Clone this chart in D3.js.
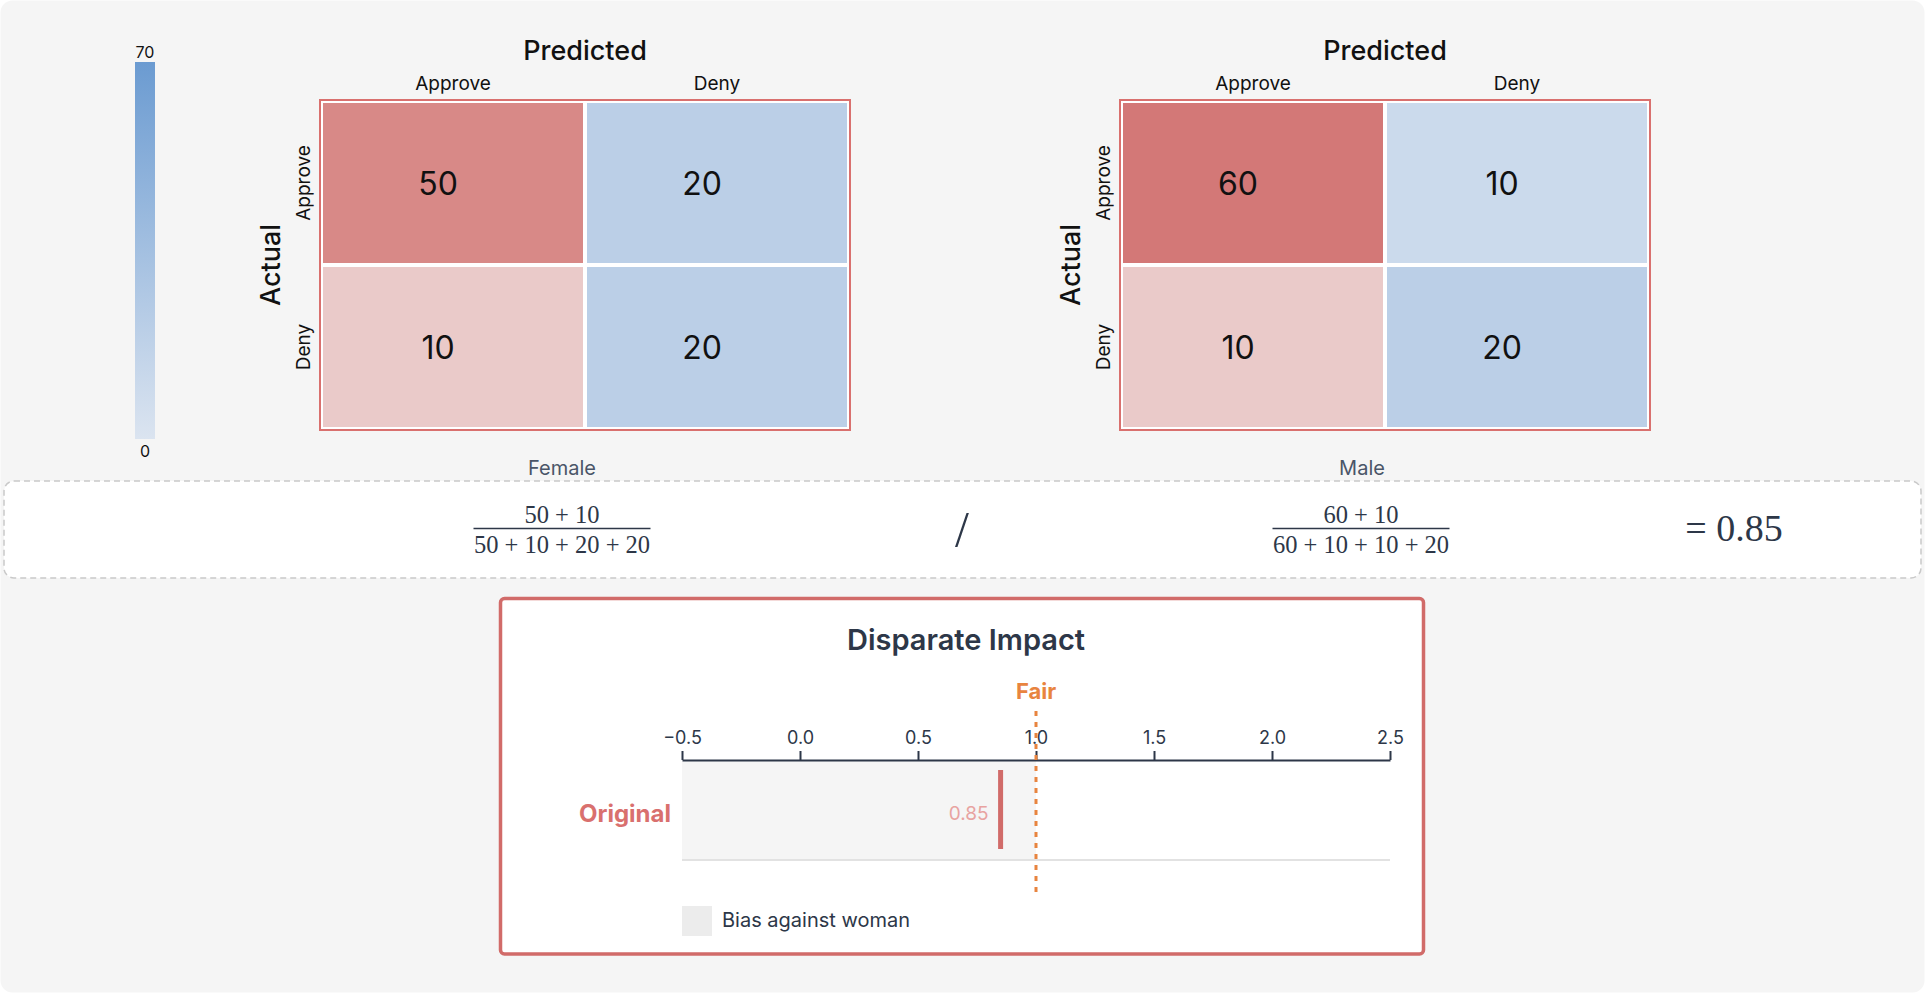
<!DOCTYPE html>
<html>
<head>
<meta charset="utf-8">
<script src="https://cdn.jsdelivr.net/npm/d3@7"></script>
<style>
  html, body { margin: 0; padding: 0; background: #ffffff; }
  svg { display: block; }
  text { font-family: Inter, "Noto Sans", Roboto, sans-serif; }
</style>
</head>
<body>
<svg id="chart" width="1926" height="996"></svg>
<script>
// ---------------- data ----------------
const predictedLabels = ["Approve", "Deny"];
const actualLabels = ["Approve", "Deny"];
const groupNames = ["Female", "Male"];
const femaleMatrix = [[50, 20], [10, 20]];   // rows: actual, cols: predicted
const maleMatrix = [[60, 10], [10, 20]];
const colorDomain = [0, 70];
const colorbarTicks = [0, 70];
const impactTicks = [-0.5, 0.0, 0.5, 1.0, 1.5, 2.0, 2.5];
const impactDomain = [-0.5, 2.5];
const impactLabels = ["Original"];
const impactValues = [0.85];
const fairValue = 1.0;
const legendLabels = ["Bias against woman"];

// ---------------- setup ----------------
const svg = d3.select("#chart");
const ink = "#2d3748";
const red = "#d16b69";

// outer card
svg.append("rect").attr("x", 0.5).attr("y", 0.5).attr("width", 1924).attr("height", 992)
  .attr("rx", 12).attr("fill", "#f5f5f5");

const blueScale = d3.scaleLinear().domain(colorDomain).range(["#dbe4f0", "#6b9bd1"]);
const redScale = d3.scaleLinear().domain(colorDomain).range(["#eedada", "#cf6866"]);

// ---------------- colorbar ----------------
const defs = svg.append("defs");
const grad = defs.append("linearGradient").attr("id", "cbar")
  .attr("x1", 0).attr("y1", 1).attr("x2", 0).attr("y2", 0);
grad.append("stop").attr("offset", "0%").attr("stop-color", blueScale(colorDomain[0]));
grad.append("stop").attr("offset", "100%").attr("stop-color", blueScale(colorDomain[1]));

const cbY = d3.scaleLinear().domain(colorDomain).range([439, 62]);
svg.append("rect").attr("x", 135).attr("y", cbY(colorDomain[1])).attr("width", 20)
  .attr("height", cbY(colorDomain[0]) - cbY(colorDomain[1])).attr("fill", "url(#cbar)");
svg.selectAll(".cbtick").data(colorbarTicks).enter().append("text")
  .attr("x", 145)
  .attr("y", d => d === colorDomain[1] ? cbY(d) - 4 : cbY(d) + 18)
  .attr("text-anchor", "middle").attr("font-size", 16).attr("fill", "#111")
  .text(d => d);

// ---------------- confusion matrices ----------------
function drawMatrix(matrix, x0, label) {
  const y0 = 99, w = 532, h = 332;
  const g = svg.append("g");
  const x = d3.scaleBand().domain(predictedLabels).range([x0 + 2, x0 + w - 2]);
  const y = d3.scaleBand().domain(actualLabels).range([y0 + 2, y0 + h - 2]);
  const cells = [];
  actualLabels.forEach((a, i) => predictedLabels.forEach((p, j) => cells.push({a, p, v: matrix[i][j]})));

  g.selectAll(".cell").data(cells).enter().append("rect")
    .attr("x", d => x(d.p)).attr("y", d => y(d.a))
    .attr("width", x.bandwidth()).attr("height", y.bandwidth())
    .attr("fill", d => d.p === predictedLabels[0] ? redScale(d.v) : blueScale(d.v))
    .attr("stroke", "#ffffff").attr("stroke-width", 4);

  g.append("rect").attr("x", x0 + 1).attr("y", y0 + 1).attr("width", w - 2).attr("height", h - 2)
    .attr("fill", "none").attr("stroke", "#d9706e").attr("stroke-width", 2);

  g.selectAll(".val").data(cells).enter().append("text")
    .attr("x", d => x(d.p) + x.bandwidth() / 2 - 15).attr("y", d => y(d.a) + y.bandwidth() / 2)
    .attr("dy", "0.36em").attr("text-anchor", "middle").attr("font-size", 32).attr("fill", "#111")
    .text(d => d.v);

  g.append("text").attr("x", x0 + w / 2).attr("y", 60).attr("text-anchor", "middle")
    .attr("font-size", 27).attr("font-weight", 500).attr("fill", "#111").text("Predicted");

  g.selectAll(".col").data(predictedLabels).enter().append("text")
    .attr("x", d => x(d) + x.bandwidth() / 2).attr("y", 90).attr("text-anchor", "middle")
    .attr("font-size", 19).attr("fill", "#111").text(d => d);

  g.selectAll(".row").data(actualLabels).enter().append("text")
    .attr("transform", d => `translate(${x0 - 16},${y(d) + y.bandwidth() / 2}) rotate(-90)`)
    .attr("dy", "0.36em").attr("text-anchor", "middle")
    .attr("font-size", 19).attr("fill", "#111").text(d => d);

  g.append("text")
    .attr("transform", `translate(${x0 - 49},${y0 + h / 2}) rotate(-90)`)
    .attr("dy", "0.36em").attr("text-anchor", "middle")
    .attr("font-size", 27).attr("font-weight", 500).attr("fill", "#111").text("Actual");

  g.append("text").attr("x", x0 + w / 2 - 23).attr("y", 475).attr("text-anchor", "middle")
    .attr("font-size", 20).attr("fill", "#4a5568").text(label);
}
drawMatrix(femaleMatrix, 319, groupNames[0]);
drawMatrix(maleMatrix, 1119, groupNames[1]);

// ---------------- formula box ----------------
svg.append("rect").attr("x", 4).attr("y", 481).attr("width", 1917).attr("height", 97)
  .attr("rx", 10).attr("fill", "#ffffff").attr("stroke", "#c9c9c9")
  .attr("stroke-width", 1.5).attr("stroke-dasharray", "6,4");

const serif = "'Liberation Serif', 'DejaVu Serif', serif";
function fraction(matrix, cx) {
  const num = [matrix[0][0], matrix[1][0]].join(" + ");
  const den = [matrix[0][0], matrix[1][0], matrix[0][1], matrix[1][1]].join(" + ");
  svg.append("text").attr("x", cx).attr("y", 523).attr("text-anchor", "middle")
    .style("font-family", serif).attr("font-size", 24.5).attr("fill", ink).text(num);
  svg.append("line").attr("x1", cx - 88.5).attr("x2", cx + 88.5).attr("y1", 528.5).attr("y2", 528.5)
    .attr("stroke", ink).attr("stroke-width", 1.6);
  svg.append("text").attr("x", cx).attr("y", 553).attr("text-anchor", "middle")
    .style("font-family", serif).attr("font-size", 24.5).attr("fill", ink).text(den);
}
fraction(femaleMatrix, 562);
fraction(maleMatrix, 1361);
svg.append("text").attr("x", 962).attr("y", 546).attr("text-anchor", "middle")
  .style("font-family", serif).attr("font-size", 50).attr("font-weight", 300).attr("fill", ink).text("/");
svg.append("text").attr("x", 1734).attr("y", 541).attr("text-anchor", "middle")
  .style("font-family", serif).attr("font-size", 38).attr("fill", ink)
  .text("= " + d3.format(".2f")(impactValues[0]));

// ---------------- disparate impact panel ----------------
svg.append("rect").attr("x", 500.5).attr("y", 598.5).attr("width", 923).attr("height", 355.5)
  .attr("rx", 4).attr("fill", "#ffffff").attr("stroke", red).attr("stroke-width", 3.5);

svg.append("text").attr("x", 966).attr("y", 650).attr("text-anchor", "middle")
  .attr("font-size", 29).attr("font-weight", 600).attr("fill", ink).text("Disparate Impact");

const xI = d3.scaleLinear().domain(impactDomain).range([682, 1390]);
const yI = d3.scaleBand().domain(impactLabels).range([761, 859]);

// bias band (below fair)
svg.append("rect").attr("x", xI(impactDomain[0])).attr("y", yI.range()[0])
  .attr("width", xI(fairValue) - xI(impactDomain[0])).attr("height", yI.range()[1] - yI.range()[0])
  .attr("fill", "#f5f5f5");
svg.append("line").attr("x1", xI(impactDomain[0])).attr("x2", xI(impactDomain[1]))
  .attr("y1", 860).attr("y2", 860).attr("stroke", "#e2e2e2").attr("stroke-width", 2);

const axis = svg.append("g").attr("transform", "translate(0,760)")
  .call(d3.axisTop(xI).tickValues(impactTicks).tickFormat(d3.format(".1f"))
    .tickSize(9).tickSizeOuter(0).tickPadding(7));
axis.select(".domain").attr("stroke", ink).attr("stroke-width", 2);
axis.selectAll(".tick line").attr("stroke", ink).attr("stroke-width", 2);
axis.selectAll(".tick text").attr("font-size", 18).attr("fill", ink)
  .style("font-family", "Inter, 'Noto Sans', sans-serif");

// markers
impactLabels.forEach((lab, i) => {
  const v = impactValues[i];
  const y0 = yI(lab);
  svg.append("rect").attr("x", xI(v) - 2.5).attr("y", y0 + 9).attr("width", 5)
    .attr("height", yI.bandwidth() - 19).attr("fill", red);
  svg.append("text").attr("x", xI(v) - 12).attr("y", y0 + yI.bandwidth() / 2 + 10)
    .attr("text-anchor", "end").attr("font-size", 19).attr("fill", "#e8a3a1").text(d3.format(".2f")(v));
  svg.append("text").attr("x", 671).attr("y", y0 + yI.bandwidth() / 2 + 12)
    .attr("text-anchor", "end").attr("font-size", 24).attr("font-weight", 700).attr("fill", "#d9706e").text(lab);
});

// fair line
svg.append("line").attr("x1", xI(fairValue)).attr("x2", xI(fairValue)).attr("y1", 711).attr("y2", 897)
  .attr("stroke", "#e8843f").attr("stroke-width", 3).attr("stroke-dasharray", "5,6");
svg.append("text").attr("x", xI(fairValue)).attr("y", 699).attr("text-anchor", "middle")
  .attr("font-size", 22).attr("font-weight", 700).attr("fill", "#e8843f").text("Fair");

// legend
legendLabels.forEach((lab, i) => {
  svg.append("rect").attr("x", 682).attr("y", 906 + i * 36).attr("width", 30).attr("height", 30).attr("fill", "#ececec");
  svg.append("text").attr("x", 722).attr("y", 927 + i * 36).attr("font-size", 20).attr("fill", ink).text(lab);
});
</script>
</body>
</html>
